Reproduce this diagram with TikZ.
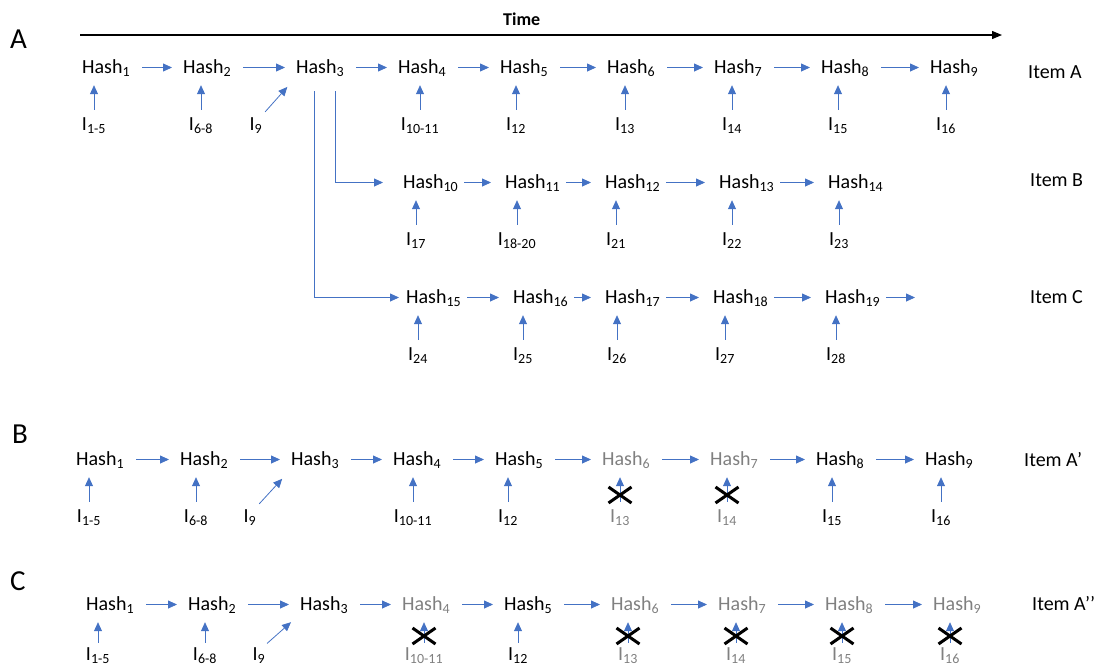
\documentclass[tikz,border=0pt]{standalone}
\usepackage{fontspec}
\setmainfont{Carlito}
\usetikzlibrary{arrows.meta,shapes.misc,positioning}
\definecolor{hashblue}{RGB}{68,114,196}
\definecolor{lostgray}{RGB}{128,128,128}
\newcommand{\hs}[1]{Hash\textsubscript{#1}}
\newcommand{\inpt}[1]{I\textsubscript{#1}}
\tikzstyle{hash} = [anchor=base west, inner sep=0pt, text height=15pt, text depth=4pt, font=\fontsize{20}{24}\selectfont]
\tikzstyle{inp} = [anchor=base, inner sep=0pt, text height=15pt, text depth=4pt, font=\fontsize{20}{24}\selectfont]
\tikzstyle{item} = [anchor=base west, inner sep=0pt, font=\fontsize{20}{24}\selectfont]
\tikzstyle{panel} = [anchor=base west, inner sep=0pt, font=\fontsize{29}{34}\selectfont]
\tikzstyle{timelbl} = [anchor=base west, inner sep=0pt, font=\fontsize{18}{22}\selectfont\bfseries]
\tikzstyle{timeline} = [draw=black, line width=1.2pt, -{Triangle[length=10pt,width=8pt]}]
\tikzstyle{arrow} = [draw=hashblue, line width=0.8pt, -{Triangle[length=9pt,width=8pt]}]
\tikzstyle{next} = [arrow, shorten <=12pt, shorten >=11pt]
\tikzstyle{nextbc} = [arrow, shorten <=6pt, shorten >=14pt]
\tikzstyle{feed} = [arrow, shorten <=5pt, shorten >=8pt]
\tikzstyle{xmark} = [cross out, draw=black, line width=3pt, minimum width=20pt, minimum height=13pt, inner sep=0pt]

\begin{document}
\begin{tikzpicture}[x=1pt,y=-1pt]
\useasboundingbox (0,0) rectangle (1097,670);

% A: items A, B and C
\node[panel] (pa) at (10,48) {A};
\node[timelbl] (time) at (503,25) {Time};
\coordinate (t0) at (80,35);
\coordinate (t1) at (1002,35);
\draw[timeline] (t0) -- (t1);

\foreach \n/\x in {1/82,2/183,3/296,4/398,5/500,6/607,7/714,8/821,9/930}
  \node[hash] (a\n) at (\x,73) {\hs{\n}};
\foreach \n [remember=\n as \m (initially 1)] in {2,...,9}
  \draw[next] (a\m) -- (a\n);
\foreach \n/\x/\sb in {1/94/1-5,2/201/6-8,4/420/10-11,5/516/12,6/625/13,7/732/14,8/838/15,9/946/16}{
  \node[inp] (ia\n) at (\x,130) {\inpt{\sb}};
  \draw[feed] (ia\n) -- (ia\n |- a\n.south);
}
\node[inp] (ia3) at (256,130) {\inpt{9}};
\draw[arrow, shorten <=4pt, shorten >=13pt] (ia3.north east) -- (a3.south west);
\node[item] (itema) at (1028,78) {Item A};

\foreach \n/\x in {10/403,11/505,12/605,13/719,14/828}
  \node[hash] (b\n) at (\x,188) {\hs{\n}};
\foreach \n [remember=\n as \m (initially 10)] in {11,...,14}
  \draw[nextbc] (b\m) -- (b\n);
\foreach \n/\x/\sb in {10/416/17,11/517/18-20,12/616/21,13/732/22,14/839/23}{
  \node[inp] (ib\n) at (\x,245) {\inpt{\sb}};
  \draw[feed] (ib\n) -- (ib\n |- b\n.south);
}
\node[item] (itemb) at (1030,186) {Item B};

\foreach \n/\x in {15/406,16/513,17/605,18/713,19/825}
  \node[hash] (c\n) at (\x,303) {\hs{\n}};
\foreach \n [remember=\n as \m (initially 15)] in {16,...,19}
  \draw[nextbc] (c\m) -- (c\n);
\foreach \n/\x/\sb in {15/418/24,16/523/25,17/617/26,18/725/27,19/836/28}{
  \node[inp] (ic\n) at (\x,360) {\inpt{\sb}};
  \draw[feed] (ic\n) -- (ic\n |- c\n.south);
}
\coordinate (cend) at (915,297.5);
\draw[arrow, shorten <=6pt] (c19) -- (cend);
\node[item] (itemc) at (1030,303) {Item C};

% branches off Hash3
\draw[arrow, shorten <=14pt, shorten >=20pt] ([xshift=15pt]a3.south) |- (b10);
\draw[arrow, shorten <=14pt, shorten >=7pt] ([xshift=-6pt]a3.south) |- (c15);

% B: item A'
\node[panel] (pb) at (12,443) {B};
\foreach \n/\x/\col in {1/76/black,2/180/black,3/291/black,4/393/black,5/495/black,6/602/lostgray,7/710/lostgray,8/816/black,9/925/black}
  \node[hash, text=\col] (p\n) at (\x,465) {\hs{\n}};
\foreach \n [remember=\n as \m (initially 1)] in {2,...,9}
  \draw[next] (p\m) -- (p\n);
\foreach \n/\x/\sb/\col in {1/89/1-5/black,2/196/6-8/black,4/413/10-11/black,5/508/12/black,6/620/13/lostgray,7/727/14/lostgray,8/832/15/black,9/941/16/black}{
  \node[inp, text=\col] (ip\n) at (\x,522) {\inpt{\sb}};
  \draw[feed] (ip\n) -- (ip\n |- p\n.south);
}
\node[inp] (ip3) at (250,522) {\inpt{9}};
\draw[arrow, shorten <=4pt, shorten >=13pt] (ip3.north east) -- (p3.south west);
\coordinate (xb) at (0,495);
\foreach \n in {6,7}
  \node[xmark] (xp\n) at (ip\n |- xb) {};
\node[item] (itemp) at (1024,466) {Item A’};

% C: item A''
\node[panel] (pc) at (10,590) {C};
\foreach \n/\x/\col in {1/86/black,2/188/black,3/300/black,4/402/lostgray,5/504/black,6/611/lostgray,7/718/lostgray,8/825/lostgray,9/933/lostgray}
  \node[hash, text=\col] (q\n) at (\x,610) {\hs{\n}};
\foreach \n [remember=\n as \m (initially 1)] in {2,...,9}
  \draw[next] (q\m) -- (q\n);
\foreach \n/\x/\sb/\col in {1/98/1-5/black,2/205/6-8/black,4/424/10-11/lostgray,5/518/12/black,6/628/13/lostgray,7/736/14/lostgray,8/842/15/lostgray,9/950/16/lostgray}{
  \node[inp, text=\col] (iq\n) at (\x,660) {\inpt{\sb}};
  \draw[feed, shorten <=2pt] (iq\n) -- (iq\n |- q\n.south);
}
\node[inp] (iq3) at (259,660) {\inpt{9}};
\draw[arrow, shorten <=2pt, shorten >=12pt] (iq3.north east) -- (q3.south west);
\coordinate (xc) at (0,636);
\foreach \n in {4,6,7,8,9}
  \node[xmark] (xq\n) at (iq\n |- xc) {};
\node[item] (itemq) at (1032,610) {Item A’’};
\end{tikzpicture}
\end{document}
